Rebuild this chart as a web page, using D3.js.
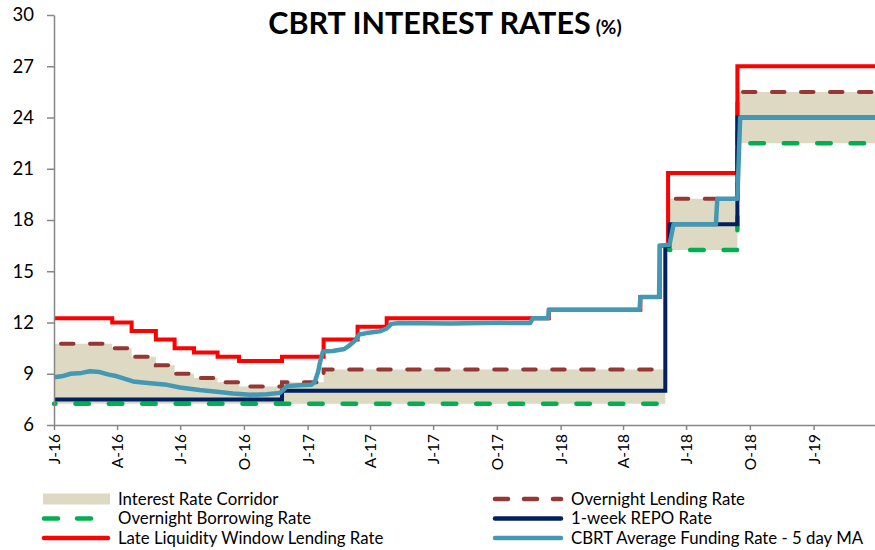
<!DOCTYPE html>
<html>
<head>
<meta charset="utf-8">
<script src="https://cdn.jsdelivr.net/npm/d3@7"></script>
<style>
    body { margin: 0; background: #fff; }
    svg { font-family: Lato, 'Open Sans', sans-serif; }
</style>
</head>
<body>
<svg width="875" height="550"></svg>
<script>
/*
    CBRT policy rates, step changes 2016 - 2019
*/

// Overnight borrowing rate (lower bound of the corridor)
let borrowingRate = [
    ['2016-01-01', 7.25], ['2018-06-01', 7.25], ['2018-06-03', null],
    ['2018-06-06', 16.25], ['2018-09-13', 22.5], ['2019-04-01', 22.5]
];

// Overnight lending rate (upper bound of the corridor)
let lendingRate = [
    ['2016-01-01', 10.75], ['2016-03-25', 10.5], ['2016-04-22', 10], ['2016-05-27', 9.5],
    ['2016-06-23', 9], ['2016-07-21', 8.75], ['2016-08-24', 8.5], ['2016-09-24', 8.25],
    ['2016-11-25', 8.5], ['2017-01-24', 9.25], ['2018-06-01', 9.25], ['2018-06-03', null],
    ['2018-06-06', 19.25], ['2018-09-13', 25.5], ['2019-04-01', 25.5]
];

// 1-week repo rate
let repoRate = [
    ['2016-01-01', 7.5], ['2016-11-25', 8], ['2018-06-01', 16.5],
    ['2018-06-07', 17.75], ['2018-09-13', 24], ['2019-04-01', 24]
];

// Late liquidity window lending rate
let llwRate = [
    ['2016-01-01', 12.25], ['2016-03-25', 12], ['2016-04-22', 11.5], ['2016-05-27', 11],
    ['2016-06-23', 10.5], ['2016-07-21', 10.25], ['2016-08-24', 10], ['2016-09-24', 9.75],
    ['2016-11-25', 10], ['2017-01-24', 11], ['2017-03-14', 11.75], ['2017-04-25', 12.25],
    ['2017-12-15', 12.75], ['2018-04-26', 13.5], ['2018-05-24', 16.5], ['2018-06-05', 20.75],
    ['2018-09-13', 27], ['2019-04-01', 27]
];

// CBRT average funding rate, 5 day moving average
let fundingRate = [
    ['2016-01-01', 8.8], ['2016-01-12', 8.85], ['2016-01-25', 9.0], ['2016-02-10', 9.05],
    ['2016-02-22', 9.15], ['2016-03-07', 9.1], ['2016-03-20', 8.95], ['2016-04-01', 8.85],
    ['2016-04-24', 8.55], ['2016-05-19', 8.45], ['2016-06-12', 8.35], ['2016-07-01', 8.2],
    ['2016-07-29', 8.05], ['2016-08-23', 7.95], ['2016-09-15', 7.85], ['2016-10-10', 7.77],
    ['2016-11-03', 7.8], ['2016-11-22', 7.88], ['2016-11-28', 8.1], ['2016-12-02', 8.28],
    ['2016-12-21', 8.32], ['2017-01-06', 8.35], ['2017-01-11', 8.5], ['2017-01-16', 9.1],
    ['2017-01-19', 9.7], ['2017-01-23', 10.3], ['2017-02-06', 10.33], ['2017-02-23', 10.45],
    ['2017-03-02', 10.65], ['2017-03-12', 11.0], ['2017-03-16', 11.3], ['2017-03-27', 11.38],
    ['2017-04-15', 11.48], ['2017-04-25', 11.65], ['2017-05-02', 11.92], ['2017-05-14', 11.97],
    ['2017-07-26', 11.94], ['2017-10-06', 11.98], ['2017-11-18', 11.97], ['2017-11-22', 12.25],
    ['2017-12-14', 12.25], ['2017-12-15', 12.75], ['2018-04-25', 12.75], ['2018-04-26', 13.5],
    ['2018-05-23', 13.5], ['2018-05-24', 16.5], ['2018-06-07', 16.55], ['2018-06-13', 17.75],
    ['2018-08-13', 17.75], ['2018-08-15', 19.25], ['2018-09-13', 19.25], ['2018-09-17', 24.0],
    ['2019-04-01', 24.0]
];

// Axis ticks
let yTicks = [6, 9, 12, 15, 18, 21, 24, 27, 30];
let xTickDates = ['2016-01-01', '2016-04-01', '2016-07-01', '2016-10-01', '2017-01-01', '2017-04-01', '2017-07-01',
                  '2017-10-01', '2018-01-01', '2018-04-01', '2018-07-01', '2018-10-01', '2019-01-01'];
let xTickLabels = ['J-16', 'A-16', 'J-16', 'O-16', 'J-17', 'A-17', 'J-17', 'O-17', 'J-18', 'A-18', 'J-18', 'O-18', 'J-19'];

// Legend entries
let legendLeft = ['Interest Rate Corridor', 'Overnight Borrowing Rate', 'Late Liquidity Window Lending Rate'];
let legendRight = ['Overnight Lending Rate', '1-week REPO Rate', 'CBRT Average Funding Rate - 5 day MA'];

// Colors
let colors = {
    corridor: '#ddd9c3',
    lending: '#953735',
    borrowing: '#00b050',
    repo: '#002060',
    llw: '#ff0000',
    funding: '#4398b3'
};

let svg = d3.select('svg');
let parse = d3.timeParse('%Y-%m-%d');
let axisColor = '#868686';

// Scales
let x = d3.scaleTime()
            .domain([parse('2016-01-01'), parse('2019-04-01')])
            .range([54, 876]);

let y = d3.scaleLinear()
            .domain([6, 30])
            .range([425, 15]);

// Value of a step series at a given date
function levelAt(series, date) {
    let v = null;
    series.forEach(p => { if (parse(p[0]) <= date) v = p[1]; });
    return v;
}

// Corridor built from both bounds
let corridorDates = Array.from(new Set(borrowingRate.concat(lendingRate).map(p => p[0]))).sort();
let corridor = corridorDates.map(d => {
    let date = parse(d);
    return { date: date, lo: levelAt(borrowingRate, date), hi: levelAt(lendingRate, date) };
});

let area = d3.area()
            .defined(d => d.lo != null && d.hi != null)
            .curve(d3.curveStepAfter)
            .x(d => x(d.date))
            .y0(d => y(d.lo))
            .y1(d => y(d.hi));

svg.append('path')
    .datum(corridor)
    .attr('fill', colors.corridor)
    .attr('d', area);

let stepLine = d3.line()
            .defined(d => d[1] != null)
            .curve(d3.curveStepAfter)
            .x(d => x(parse(d[0])))
            .y(d => y(d[1]));

let smoothLine = d3.line()
            .x(d => x(parse(d[0])))
            .y(d => y(d[1]));

// Dashed bounds
svg.append('path')
    .datum(lendingRate)
    .attr('fill', 'none')
    .attr('stroke', colors.lending)
    .attr('stroke-width', 4)
    .attr('stroke-linecap', 'round')
    .attr('stroke-dasharray', '12.5,16.5')
    .attr('stroke-dashoffset', 22)
    .attr('d', stepLine);

svg.append('path')
    .datum(borrowingRate)
    .attr('fill', 'none')
    .attr('stroke', colors.borrowing)
    .attr('stroke-width', 4.5)
    .attr('stroke-linecap', 'round')
    .attr('stroke-dasharray', '13.5,19.9')
    .attr('stroke-dashoffset', 12)
    .attr('d', stepLine);

// Solid rate lines
svg.append('path')
    .datum(llwRate)
    .attr('fill', 'none')
    .attr('stroke', colors.llw)
    .attr('stroke-width', 4)
    .attr('d', stepLine);

svg.append('path')
    .datum(repoRate)
    .attr('fill', 'none')
    .attr('stroke', colors.repo)
    .attr('stroke-width', 4)
    .attr('d', stepLine);

svg.append('path')
    .datum(fundingRate)
    .attr('fill', 'none')
    .attr('stroke', colors.funding)
    .attr('stroke-width', 4.5)
    .attr('stroke-linejoin', 'round')
    .attr('d', smoothLine);

// Y axis
let yAxis = svg.append('g')
    .attr('transform', 'translate(54,0)')
    .call(d3.axisLeft(y)
                .tickValues(yTicks)
                .tickSize(7)
                .tickSizeOuter(0)
                .tickPadding(13));

yAxis.selectAll('path, line').attr('stroke', axisColor).attr('stroke-width', 1.5);
yAxis.selectAll('text').attr('font-size', 18.5).attr('fill', '#000').attr('font-family', 'Lato, sans-serif');

// X axis
let xAxis = svg.append('g')
    .attr('transform', 'translate(0,425)')
    .call(d3.axisBottom(x)
                .tickValues(xTickDates.map(parse))
                .tickFormat((d, i) => xTickLabels[i])
                .tickSize(5)
                .tickSizeOuter(0));

xAxis.selectAll('path, line').attr('stroke', axisColor).attr('stroke-width', 1.5);
xAxis.selectAll('text')
    .attr('font-size', 15.5)
    .attr('fill', '#000')
    .attr('font-family', 'Lato, sans-serif')
    .attr('transform', 'rotate(-90)')
    .attr('x', -9)
    .attr('y', 0)
    .attr('dy', '0.35em')
    .style('text-anchor', 'end');

// Title
let title = svg.append('text')
    .attr('x', 445)
    .attr('y', 34)
    .attr('text-anchor', 'middle')
    .attr('font-weight', 'bold')
    .attr('fill', '#000');

title.append('tspan').attr('font-size', 30.5).text('CBRT INTEREST RATES');
title.append('tspan').attr('font-size', 19).attr('dx', 5).text('(%)');

// Legend
let rowY = [499, 518.5, 538];

svg.append('rect')
    .attr('x', 43).attr('y', rowY[0] - 5.5)
    .attr('width', 67).attr('height', 11)
    .attr('fill', colors.corridor);

svg.append('line')
    .attr('x1', 44).attr('x2', 108).attr('y1', rowY[1]).attr('y2', rowY[1])
    .attr('stroke', colors.borrowing).attr('stroke-width', 4.5)
    .attr('stroke-linecap', 'round').attr('stroke-dasharray', '14,19');

svg.append('line')
    .attr('x1', 44).attr('x2', 108).attr('y1', rowY[2]).attr('y2', rowY[2])
    .attr('stroke', colors.llw).attr('stroke-width', 4.5)
    .attr('stroke-linecap', 'round');

svg.append('line')
    .attr('x1', 495).attr('x2', 561).attr('y1', rowY[0]).attr('y2', rowY[0])
    .attr('stroke', colors.lending).attr('stroke-width', 4.5)
    .attr('stroke-linecap', 'round').attr('stroke-dasharray', '13,16');

svg.append('line')
    .attr('x1', 495).attr('x2', 561).attr('y1', rowY[1]).attr('y2', rowY[1])
    .attr('stroke', colors.repo).attr('stroke-width', 4.5)
    .attr('stroke-linecap', 'round');

svg.append('line')
    .attr('x1', 495).attr('x2', 561).attr('y1', rowY[2]).attr('y2', rowY[2])
    .attr('stroke', colors.funding).attr('stroke-width', 4.5)
    .attr('stroke-linecap', 'round');

svg.selectAll('.legend-left')
    .data(legendLeft)
    .enter().append('text')
    .attr('x', 118)
    .attr('y', (d, i) => rowY[i])
    .attr('dy', '0.35em')
    .attr('font-size', 16.8)
    .attr('fill', '#000')
    .text(d => d);

svg.selectAll('.legend-right')
    .data(legendRight)
    .enter().append('text')
    .attr('x', 571)
    .attr('y', (d, i) => rowY[i])
    .attr('dy', '0.35em')
    .attr('font-size', 16.8)
    .attr('fill', '#000')
    .text(d => d);
</script>
</body>
</html>
